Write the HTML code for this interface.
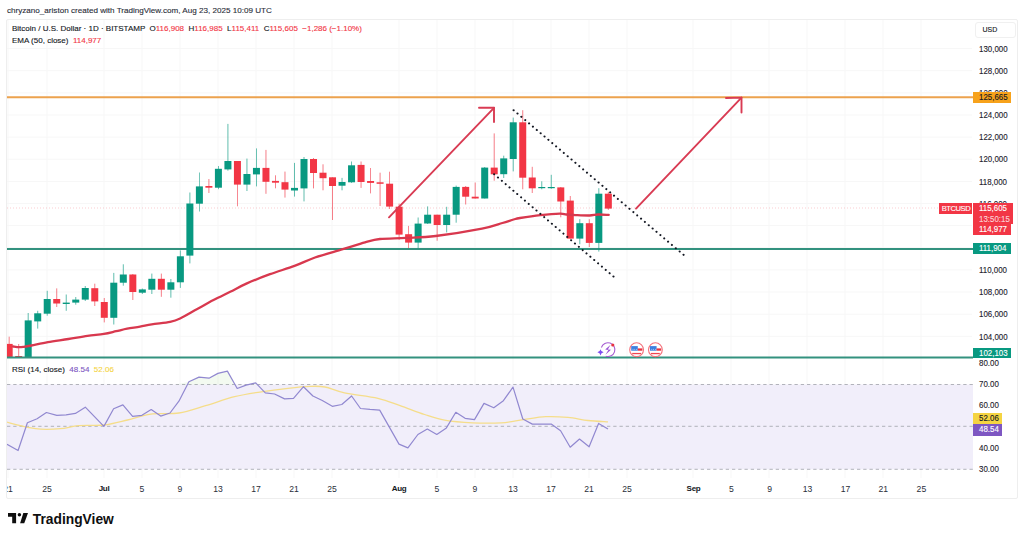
<!DOCTYPE html>
<html><head><meta charset="utf-8"><style>
*{margin:0;padding:0;box-sizing:border-box}
html,body{width:1024px;height:539px;overflow:hidden;background:#fff;font-family:"Liberation Sans",sans-serif;color:#131722;-webkit-text-stroke:0.12px}
.abs{position:absolute}
#hdr{position:absolute;left:7px;top:5.7px;font-size:8.1px;color:#2a2e39;white-space:nowrap}
#frame{position:absolute;left:6px;top:18.5px;width:1012px;height:480px;border:1px solid #eeeeee;border-radius:2px}
svg{position:absolute;left:0;top:0}
.pl{position:absolute;left:979.3px;font-size:8.7px;line-height:10px;white-space:nowrap;color:#1e222d;transform:scaleX(0.91);transform-origin:0 0}
.dl{position:absolute;top:483.5px;width:40px;text-align:center;font-size:8.6px;line-height:10px;color:#2a2e39;-webkit-text-stroke:0}
.dl.b{font-weight:bold;font-size:8px;color:#131722;letter-spacing:-0.3px}
.leg{position:absolute;left:12px;font-size:8px;line-height:10px;white-space:nowrap;color:#131722}
.red{color:#f23645}
.tag{position:absolute;font-size:8px;line-height:10px;color:#fff;white-space:nowrap;padding-left:6px}
.tx{display:inline-block;font-size:8.7px;transform:scaleX(0.91);transform-origin:0 50%}
#clipL{position:absolute;left:0;top:19px;width:6.5px;height:480px;background:#fff}
</style></head><body>
<div id="hdr">chryzano_ariston created with TradingView.com, Aug 23, 2025 10:09 UTC</div>
<svg width="1024" height="539" viewBox="0 0 1024 539">
<defs><clipPath id="cp"><rect x="7" y="20" width="966" height="458"/></clipPath></defs>
<g clip-path="url(#cp)">
<line x1="8" y1="20" x2="8" y2="478" stroke="#f7f7f7" stroke-width="1"/>
<line x1="47" y1="20" x2="47" y2="478" stroke="#f7f7f7" stroke-width="1"/>
<line x1="104" y1="20" x2="104" y2="478" stroke="#f7f7f7" stroke-width="1"/>
<line x1="142" y1="20" x2="142" y2="478" stroke="#f7f7f7" stroke-width="1"/>
<line x1="180" y1="20" x2="180" y2="478" stroke="#f7f7f7" stroke-width="1"/>
<line x1="218" y1="20" x2="218" y2="478" stroke="#f7f7f7" stroke-width="1"/>
<line x1="256" y1="20" x2="256" y2="478" stroke="#f7f7f7" stroke-width="1"/>
<line x1="294" y1="20" x2="294" y2="478" stroke="#f7f7f7" stroke-width="1"/>
<line x1="332" y1="20" x2="332" y2="478" stroke="#f7f7f7" stroke-width="1"/>
<line x1="399" y1="20" x2="399" y2="478" stroke="#f7f7f7" stroke-width="1"/>
<line x1="437" y1="20" x2="437" y2="478" stroke="#f7f7f7" stroke-width="1"/>
<line x1="475" y1="20" x2="475" y2="478" stroke="#f7f7f7" stroke-width="1"/>
<line x1="513" y1="20" x2="513" y2="478" stroke="#f7f7f7" stroke-width="1"/>
<line x1="551" y1="20" x2="551" y2="478" stroke="#f7f7f7" stroke-width="1"/>
<line x1="589" y1="20" x2="589" y2="478" stroke="#f7f7f7" stroke-width="1"/>
<line x1="627" y1="20" x2="627" y2="478" stroke="#f7f7f7" stroke-width="1"/>
<line x1="693" y1="20" x2="693" y2="478" stroke="#f7f7f7" stroke-width="1"/>
<line x1="731" y1="20" x2="731" y2="478" stroke="#f7f7f7" stroke-width="1"/>
<line x1="769" y1="20" x2="769" y2="478" stroke="#f7f7f7" stroke-width="1"/>
<line x1="807" y1="20" x2="807" y2="478" stroke="#f7f7f7" stroke-width="1"/>
<line x1="845" y1="20" x2="845" y2="478" stroke="#f7f7f7" stroke-width="1"/>
<line x1="883" y1="20" x2="883" y2="478" stroke="#f7f7f7" stroke-width="1"/>
<line x1="921" y1="20" x2="921" y2="478" stroke="#f7f7f7" stroke-width="1"/>
<line x1="7" y1="48.6" x2="972" y2="48.6" stroke="#f7f7f7" stroke-width="1"/>
<line x1="7" y1="70.7" x2="972" y2="70.7" stroke="#f7f7f7" stroke-width="1"/>
<line x1="7" y1="92.9" x2="972" y2="92.9" stroke="#f7f7f7" stroke-width="1"/>
<line x1="7" y1="115.0" x2="972" y2="115.0" stroke="#f7f7f7" stroke-width="1"/>
<line x1="7" y1="137.1" x2="972" y2="137.1" stroke="#f7f7f7" stroke-width="1"/>
<line x1="7" y1="159.2" x2="972" y2="159.2" stroke="#f7f7f7" stroke-width="1"/>
<line x1="7" y1="181.4" x2="972" y2="181.4" stroke="#f7f7f7" stroke-width="1"/>
<line x1="7" y1="203.5" x2="972" y2="203.5" stroke="#f7f7f7" stroke-width="1"/>
<line x1="7" y1="225.6" x2="972" y2="225.6" stroke="#f7f7f7" stroke-width="1"/>
<line x1="7" y1="247.8" x2="972" y2="247.8" stroke="#f7f7f7" stroke-width="1"/>
<line x1="7" y1="269.9" x2="972" y2="269.9" stroke="#f7f7f7" stroke-width="1"/>
<line x1="7" y1="292.0" x2="972" y2="292.0" stroke="#f7f7f7" stroke-width="1"/>
<line x1="7" y1="314.2" x2="972" y2="314.2" stroke="#f7f7f7" stroke-width="1"/>
<line x1="7" y1="336.3" x2="972" y2="336.3" stroke="#f7f7f7" stroke-width="1"/>
<rect x="7" y="384.5" width="966" height="84.8" fill="#f1eefa"/>
<line x1="7" y1="384.5" x2="973" y2="384.5" stroke="#9fa2aa" stroke-width="0.8" stroke-dasharray="3.3 2.95"/>
<line x1="7" y1="426.3" x2="973" y2="426.3" stroke="#9fa2aa" stroke-width="0.8" stroke-dasharray="3.3 2.95"/>
<line x1="7" y1="469.3" x2="973" y2="469.3" stroke="#9fa2aa" stroke-width="0.8" stroke-dasharray="3.3 2.95"/>
<line x1="7" y1="208" x2="939" y2="208" stroke="#f23645" stroke-width="0.8" stroke-dasharray="1 2" opacity="0.3"/>
<line x1="7" y1="97.2" x2="974" y2="97.2" stroke="#eca24e" stroke-width="2"/>
<line x1="7" y1="249" x2="974" y2="249" stroke="#33927f" stroke-width="2"/>
<line x1="9.18" y1="336.7" x2="9.18" y2="357.5" stroke="#f23645" stroke-width="0.75" opacity="0.85"/>
<rect x="5.68" y="343.9" width="7.0" height="13.6" fill="#f23645"/>
<line x1="18.69" y1="344.0" x2="18.69" y2="357.5" stroke="#f23645" stroke-width="0.75" opacity="0.85"/>
<rect x="15.19" y="356.0" width="7.0" height="1.5" fill="#f23645"/>
<line x1="28.20" y1="313.0" x2="28.20" y2="357.5" stroke="#089981" stroke-width="0.75" opacity="0.85"/>
<rect x="24.70" y="320.4" width="7.0" height="37.1" fill="#089981"/>
<line x1="37.71" y1="310.8" x2="37.71" y2="328.6" stroke="#089981" stroke-width="0.75" opacity="0.85"/>
<rect x="34.21" y="313.3" width="7.0" height="8.1" fill="#089981"/>
<line x1="47.22" y1="290.8" x2="47.22" y2="315.7" stroke="#089981" stroke-width="0.75" opacity="0.85"/>
<rect x="43.72" y="299.0" width="7.0" height="14.7" fill="#089981"/>
<line x1="56.73" y1="288.4" x2="56.73" y2="307.0" stroke="#f23645" stroke-width="0.75" opacity="0.85"/>
<rect x="53.23" y="299.0" width="7.0" height="4.5" fill="#f23645"/>
<line x1="66.24" y1="294.5" x2="66.24" y2="310.8" stroke="#089981" stroke-width="0.75" opacity="0.85"/>
<rect x="62.74" y="302.6" width="7.0" height="1.4" fill="#089981"/>
<line x1="75.75" y1="297.0" x2="75.75" y2="304.7" stroke="#089981" stroke-width="0.75" opacity="0.85"/>
<rect x="72.25" y="299.6" width="7.0" height="3.0" fill="#089981"/>
<line x1="85.26" y1="286.0" x2="85.26" y2="301.0" stroke="#089981" stroke-width="0.75" opacity="0.85"/>
<rect x="81.76" y="288.0" width="7.0" height="11.6" fill="#089981"/>
<line x1="94.77" y1="283.7" x2="94.77" y2="306.0" stroke="#f23645" stroke-width="0.75" opacity="0.85"/>
<rect x="91.27" y="288.2" width="7.0" height="13.2" fill="#f23645"/>
<line x1="104.28" y1="298.0" x2="104.28" y2="322.4" stroke="#f23645" stroke-width="0.75" opacity="0.85"/>
<rect x="100.78" y="302.0" width="7.0" height="15.8" fill="#f23645"/>
<line x1="113.79" y1="272.9" x2="113.79" y2="324.5" stroke="#089981" stroke-width="0.75" opacity="0.85"/>
<rect x="110.29" y="282.7" width="7.0" height="35.1" fill="#089981"/>
<line x1="123.30" y1="264.3" x2="123.30" y2="285.7" stroke="#089981" stroke-width="0.75" opacity="0.85"/>
<rect x="119.80" y="274.5" width="7.0" height="8.2" fill="#089981"/>
<line x1="132.82" y1="274.0" x2="132.82" y2="300.0" stroke="#f23645" stroke-width="0.75" opacity="0.85"/>
<rect x="129.32" y="274.5" width="7.0" height="17.5" fill="#f23645"/>
<line x1="142.33" y1="288.5" x2="142.33" y2="294.0" stroke="#089981" stroke-width="0.75" opacity="0.85"/>
<rect x="138.83" y="289.4" width="7.0" height="3.3" fill="#089981"/>
<line x1="151.84" y1="273.6" x2="151.84" y2="294.0" stroke="#089981" stroke-width="0.75" opacity="0.85"/>
<rect x="148.34" y="278.8" width="7.0" height="10.9" fill="#089981"/>
<line x1="161.35" y1="273.6" x2="161.35" y2="296.8" stroke="#f23645" stroke-width="0.75" opacity="0.85"/>
<rect x="157.85" y="278.8" width="7.0" height="10.9" fill="#f23645"/>
<line x1="170.86" y1="279.0" x2="170.86" y2="297.7" stroke="#089981" stroke-width="0.75" opacity="0.85"/>
<rect x="167.36" y="282.3" width="7.0" height="7.4" fill="#089981"/>
<line x1="180.37" y1="250.4" x2="180.37" y2="287.9" stroke="#089981" stroke-width="0.75" opacity="0.85"/>
<rect x="176.87" y="256.3" width="7.0" height="26.0" fill="#089981"/>
<line x1="189.88" y1="192.5" x2="189.88" y2="263.4" stroke="#089981" stroke-width="0.75" opacity="0.85"/>
<rect x="186.38" y="203.5" width="7.0" height="52.1" fill="#089981"/>
<line x1="199.39" y1="172.5" x2="199.39" y2="211.5" stroke="#089981" stroke-width="0.75" opacity="0.85"/>
<rect x="195.89" y="186.4" width="7.0" height="17.3" fill="#089981"/>
<line x1="208.90" y1="179.0" x2="208.90" y2="193.0" stroke="#f23645" stroke-width="0.75" opacity="0.85"/>
<rect x="205.40" y="186.0" width="7.0" height="1.7" fill="#f23645"/>
<line x1="218.41" y1="166.0" x2="218.41" y2="189.2" stroke="#089981" stroke-width="0.75" opacity="0.85"/>
<rect x="214.91" y="168.8" width="7.0" height="18.9" fill="#089981"/>
<line x1="227.92" y1="123.9" x2="227.92" y2="170.7" stroke="#089981" stroke-width="0.75" opacity="0.85"/>
<rect x="224.42" y="161.0" width="7.0" height="8.4" fill="#089981"/>
<line x1="237.43" y1="161.0" x2="237.43" y2="206.3" stroke="#f23645" stroke-width="0.75" opacity="0.85"/>
<rect x="233.93" y="161.0" width="7.0" height="23.6" fill="#f23645"/>
<line x1="246.94" y1="158.6" x2="246.94" y2="191.0" stroke="#089981" stroke-width="0.75" opacity="0.85"/>
<rect x="243.44" y="174.0" width="7.0" height="10.6" fill="#089981"/>
<line x1="256.45" y1="148.4" x2="256.45" y2="186.4" stroke="#089981" stroke-width="0.75" opacity="0.85"/>
<rect x="252.95" y="167.9" width="7.0" height="6.5" fill="#089981"/>
<line x1="265.96" y1="149.9" x2="265.96" y2="193.8" stroke="#f23645" stroke-width="0.75" opacity="0.85"/>
<rect x="262.46" y="167.9" width="7.0" height="13.9" fill="#f23645"/>
<line x1="275.47" y1="175.3" x2="275.47" y2="188.3" stroke="#f23645" stroke-width="0.75" opacity="0.85"/>
<rect x="271.97" y="180.9" width="7.0" height="1.8" fill="#f23645"/>
<line x1="284.98" y1="171.6" x2="284.98" y2="197.6" stroke="#f23645" stroke-width="0.75" opacity="0.85"/>
<rect x="281.48" y="182.2" width="7.0" height="7.4" fill="#f23645"/>
<line x1="294.49" y1="162.9" x2="294.49" y2="196.6" stroke="#089981" stroke-width="0.75" opacity="0.85"/>
<rect x="290.99" y="187.9" width="7.0" height="2.6" fill="#089981"/>
<line x1="304.00" y1="157.0" x2="304.00" y2="201.4" stroke="#089981" stroke-width="0.75" opacity="0.85"/>
<rect x="300.50" y="159.0" width="7.0" height="29.4" fill="#089981"/>
<line x1="313.51" y1="158.0" x2="313.51" y2="188.4" stroke="#f23645" stroke-width="0.75" opacity="0.85"/>
<rect x="310.01" y="159.0" width="7.0" height="14.0" fill="#f23645"/>
<line x1="323.02" y1="164.3" x2="323.02" y2="190.3" stroke="#f23645" stroke-width="0.75" opacity="0.85"/>
<rect x="319.52" y="172.7" width="7.0" height="5.5" fill="#f23645"/>
<line x1="332.53" y1="177.3" x2="332.53" y2="220.0" stroke="#f23645" stroke-width="0.75" opacity="0.85"/>
<rect x="329.03" y="177.3" width="7.0" height="8.7" fill="#f23645"/>
<line x1="342.04" y1="177.9" x2="342.04" y2="190.3" stroke="#089981" stroke-width="0.75" opacity="0.85"/>
<rect x="338.54" y="182.0" width="7.0" height="3.7" fill="#089981"/>
<line x1="351.55" y1="161.5" x2="351.55" y2="182.9" stroke="#089981" stroke-width="0.75" opacity="0.85"/>
<rect x="348.05" y="165.3" width="7.0" height="17.0" fill="#089981"/>
<line x1="361.06" y1="161.5" x2="361.06" y2="187.9" stroke="#f23645" stroke-width="0.75" opacity="0.85"/>
<rect x="357.56" y="164.9" width="7.0" height="17.1" fill="#f23645"/>
<line x1="370.58" y1="168.0" x2="370.58" y2="193.4" stroke="#f23645" stroke-width="0.75" opacity="0.85"/>
<rect x="367.08" y="181.0" width="7.0" height="1.9" fill="#f23645"/>
<line x1="380.09" y1="172.7" x2="380.09" y2="206.0" stroke="#f23645" stroke-width="0.75" opacity="0.85"/>
<rect x="376.59" y="182.3" width="7.0" height="1.5" fill="#f23645"/>
<line x1="389.60" y1="171.7" x2="389.60" y2="209.0" stroke="#f23645" stroke-width="0.75" opacity="0.85"/>
<rect x="386.10" y="183.7" width="7.0" height="22.9" fill="#f23645"/>
<line x1="399.11" y1="203.6" x2="399.11" y2="239.8" stroke="#f23645" stroke-width="0.75" opacity="0.85"/>
<rect x="395.61" y="206.7" width="7.0" height="27.9" fill="#f23645"/>
<line x1="408.62" y1="225.9" x2="408.62" y2="248.1" stroke="#f23645" stroke-width="0.75" opacity="0.85"/>
<rect x="405.12" y="234.2" width="7.0" height="8.4" fill="#f23645"/>
<line x1="418.13" y1="217.5" x2="418.13" y2="248.1" stroke="#089981" stroke-width="0.75" opacity="0.85"/>
<rect x="414.63" y="223.6" width="7.0" height="19.0" fill="#089981"/>
<line x1="427.64" y1="206.4" x2="427.64" y2="224.0" stroke="#089981" stroke-width="0.75" opacity="0.85"/>
<rect x="424.14" y="214.7" width="7.0" height="8.8" fill="#089981"/>
<line x1="437.15" y1="214.7" x2="437.15" y2="240.7" stroke="#f23645" stroke-width="0.75" opacity="0.85"/>
<rect x="433.65" y="214.7" width="7.0" height="10.3" fill="#f23645"/>
<line x1="446.66" y1="206.8" x2="446.66" y2="232.4" stroke="#089981" stroke-width="0.75" opacity="0.85"/>
<rect x="443.16" y="214.7" width="7.0" height="10.3" fill="#089981"/>
<line x1="456.17" y1="185.6" x2="456.17" y2="222.7" stroke="#089981" stroke-width="0.75" opacity="0.85"/>
<rect x="452.67" y="186.9" width="7.0" height="27.8" fill="#089981"/>
<line x1="465.68" y1="186.0" x2="465.68" y2="204.5" stroke="#f23645" stroke-width="0.75" opacity="0.85"/>
<rect x="462.18" y="186.9" width="7.0" height="9.8" fill="#f23645"/>
<line x1="475.19" y1="182.5" x2="475.19" y2="198.6" stroke="#f23645" stroke-width="0.75" opacity="0.85"/>
<rect x="471.69" y="196.7" width="7.0" height="1.8" fill="#f23645"/>
<line x1="484.70" y1="167.0" x2="484.70" y2="198.5" stroke="#089981" stroke-width="0.75" opacity="0.85"/>
<rect x="481.20" y="167.6" width="7.0" height="30.9" fill="#089981"/>
<line x1="494.21" y1="133.4" x2="494.21" y2="180.7" stroke="#f23645" stroke-width="0.75" opacity="0.85"/>
<rect x="490.71" y="167.6" width="7.0" height="6.7" fill="#f23645"/>
<line x1="503.72" y1="155.7" x2="503.72" y2="178.0" stroke="#089981" stroke-width="0.75" opacity="0.85"/>
<rect x="500.22" y="158.4" width="7.0" height="15.8" fill="#089981"/>
<line x1="513.23" y1="117.6" x2="513.23" y2="171.4" stroke="#089981" stroke-width="0.75" opacity="0.85"/>
<rect x="509.73" y="122.3" width="7.0" height="36.7" fill="#089981"/>
<line x1="522.74" y1="110.2" x2="522.74" y2="189.3" stroke="#f23645" stroke-width="0.75" opacity="0.85"/>
<rect x="519.24" y="122.3" width="7.0" height="55.4" fill="#f23645"/>
<line x1="532.25" y1="166.8" x2="532.25" y2="193.0" stroke="#f23645" stroke-width="0.75" opacity="0.85"/>
<rect x="528.75" y="177.5" width="7.0" height="10.8" fill="#f23645"/>
<line x1="541.76" y1="181.3" x2="541.76" y2="189.3" stroke="#089981" stroke-width="0.75" opacity="0.85"/>
<rect x="538.26" y="187.0" width="7.0" height="1.2" fill="#089981"/>
<line x1="551.27" y1="174.8" x2="551.27" y2="188.8" stroke="#089981" stroke-width="0.75" opacity="0.85"/>
<rect x="547.77" y="187.0" width="7.0" height="1.2" fill="#089981"/>
<line x1="560.78" y1="187.0" x2="560.78" y2="217.3" stroke="#f23645" stroke-width="0.75" opacity="0.85"/>
<rect x="557.28" y="187.4" width="7.0" height="14.1" fill="#f23645"/>
<line x1="570.29" y1="196.0" x2="570.29" y2="238.6" stroke="#f23645" stroke-width="0.75" opacity="0.85"/>
<rect x="566.79" y="200.6" width="7.0" height="38.0" fill="#f23645"/>
<line x1="579.80" y1="219.2" x2="579.80" y2="244.2" stroke="#089981" stroke-width="0.75" opacity="0.85"/>
<rect x="576.30" y="223.2" width="7.0" height="15.4" fill="#089981"/>
<line x1="589.31" y1="219.2" x2="589.31" y2="247.0" stroke="#f23645" stroke-width="0.75" opacity="0.85"/>
<rect x="585.81" y="223.2" width="7.0" height="19.7" fill="#f23645"/>
<line x1="598.82" y1="188.2" x2="598.82" y2="251.6" stroke="#089981" stroke-width="0.75" opacity="0.85"/>
<rect x="595.32" y="193.7" width="7.0" height="49.2" fill="#089981"/>
<line x1="608.34" y1="191.9" x2="608.34" y2="209.9" stroke="#f23645" stroke-width="0.75" opacity="0.85"/>
<rect x="604.84" y="193.7" width="7.0" height="14.9" fill="#f23645"/>
<path fill="none" stroke="#d8384e" stroke-width="2.3" stroke-linecap="round" d="M13,346.5 C14.02,346.62 17.28,347.15 19.1,347.2 C20.92,347.25 21.85,347.08 23.9,346.8 C25.95,346.52 27.40,346.28 31.4,345.5 C35.40,344.72 41.73,343.18 47.9,342.1 C54.07,341.02 61.80,340.05 68.4,339 C75.00,337.95 81.58,336.65 87.5,335.8 C93.42,334.95 99.12,334.67 103.9,333.9 C108.68,333.13 112.32,332.07 116.2,331.2 C120.08,330.33 123.23,329.45 127.2,328.7 C131.17,327.95 135.92,327.43 140,326.7 C144.08,325.97 146.68,325.12 151.7,324.3 C156.72,323.48 165.37,322.77 170.1,321.8 C174.83,320.83 175.65,320.58 180.1,318.5 C184.55,316.42 191.23,312.37 196.8,309.3 C202.37,306.23 207.93,303.02 213.5,300.1 C219.07,297.18 224.63,294.58 230.2,291.8 C235.77,289.02 240.27,286.33 246.9,283.4 C253.53,280.47 262.07,277.12 270,274.2 C277.93,271.28 287.00,268.68 294.5,265.9 C302.00,263.12 306.95,260.28 315,257.5 C323.05,254.72 334.47,251.73 342.8,249.2 C351.13,246.67 358.82,244.00 365,242.3 C371.18,240.60 373.07,239.73 379.9,239 C386.73,238.27 396.70,238.40 406,237.9 C415.30,237.40 423.03,237.55 435.7,236 C448.37,234.45 470.88,230.77 482,228.6 C493.12,226.43 497.13,224.52 502.4,223 C507.67,221.48 510.67,220.33 513.6,219.5 C516.53,218.67 515.53,218.73 520,218 C524.47,217.27 533.75,215.83 540.4,215.1 C547.05,214.37 555.57,213.70 559.9,213.6 C564.23,213.50 563.77,214.25 566.4,214.5 C569.03,214.75 571.83,214.93 575.7,215.1 C579.57,215.27 585.88,215.60 589.6,215.5 C593.32,215.40 594.82,214.60 598,214.5 C601.18,214.40 606.92,214.83 608.7,214.9"/>
<line x1="7" y1="357.6" x2="974" y2="357.6" stroke="#33927f" stroke-width="2"/>
<g stroke="#d93b53" stroke-width="1.9" fill="none" stroke-linecap="round" stroke-linejoin="round"><line x1="389" y1="217.3" x2="494" y2="107.8"/><polyline points="479,107.8 494,107.8 494,122"/></g>
<g stroke="#d93b53" stroke-width="1.9" fill="none" stroke-linecap="round" stroke-linejoin="round"><line x1="636" y1="208.6" x2="741.5" y2="97.6"/><polyline points="726,98 741.5,97.6 741.5,112.5"/></g>
<line x1="513.6" y1="110.2" x2="683.9" y2="255.1" stroke="#131722" stroke-width="2" stroke-dasharray="0.1 4.97" stroke-linecap="round"/>
<line x1="494.1" y1="174.2" x2="615.1" y2="277.9" stroke="#131722" stroke-width="2" stroke-dasharray="0.1 4.97" stroke-linecap="round"/>
<polygon fill="rgba(120,200,90,0.09)" points="176.1,384.5 188.9,381.8 199,377.1 209,378.2 217.9,373.4 227.4,371.1 234.7,384.5"/>
<polygon fill="rgba(120,200,90,0.09)" points="248.4,384.5 255.7,382.9 258.2,384.5"/>
<path fill="none" stroke="#f5dd8a" stroke-width="1.3" d="M7,422.2 C10.47,423.05 22.20,426.13 27.8,427.3 C33.40,428.47 35.18,428.97 40.6,429.2 C46.02,429.43 53.93,429.28 60.3,428.7 C66.67,428.12 71.53,426.32 78.8,425.7 C86.07,425.08 95.78,425.95 103.9,425 C112.02,424.05 119.70,421.82 127.5,420 C135.30,418.18 142.13,415.27 150.7,414.1 C159.27,412.93 169.75,414.42 178.9,413 C188.05,411.58 196.32,408.32 205.6,405.6 C214.88,402.88 225.32,399.00 234.6,396.7 C243.88,394.40 252.40,393.20 261.3,391.8 C270.20,390.40 279.88,389.20 288,388.3 C296.12,387.40 303.83,386.62 310,386.4 C316.17,386.18 319.25,385.92 325,387.0 C330.75,388.08 335.68,391.02 344.5,392.9 C353.32,394.78 368.63,396.18 377.9,398.3 C387.17,400.42 392.32,402.90 400.1,405.6 C407.88,408.30 417.18,412.08 424.6,414.5 C432.02,416.92 436.65,418.72 444.6,420.1 C452.55,421.48 462.87,422.35 472.3,422.8 C481.73,423.25 492.68,423.33 501.2,422.8 C509.72,422.27 515.98,420.62 523.4,419.6 C530.82,418.58 538.27,417.07 545.7,416.7 C553.13,416.33 560.95,416.77 568,417.4 C575.05,418.03 581.33,419.75 588,420.5 C594.67,421.25 604.67,421.67 608,421.9"/>
<polyline fill="none" stroke="#9188d0" stroke-width="1.2" stroke-linejoin="round" points="7,444.3 18.1,450.5 27.4,422.7 37.1,418.8 46.4,412.5 56.8,415.3 66.1,414.8 75.4,413.4 85.3,407.2 103.9,426.4 113.6,408.8 122.9,404.9 132.6,416.4 141.9,415.3 151.2,409.5 160.7,416.1 170,413 178.9,401.2 188.9,381.8 199,377.1 209,378.2 217.9,373.4 227.4,371.1 237.2,388.5 246.1,385.1 255.7,382.9 265.3,392.9 274.6,394 284.6,398.9 293.5,398.3 303.5,386.7 312.9,396 322.3,400.5 332.3,406.3 341.8,404.5 351.6,396 360.5,408.5 370,409.4 379.7,410.1 399,444.1 407.9,447.9 417.9,434.5 427.3,429 436.8,434.5 446.4,427.9 455.8,412.3 465.1,418.3 474.5,419.6 484,403.4 493.8,407.8 503.4,400.7 513,387.1 522.8,419 532.3,424.1 541.7,424.1 551.2,424.1 560.6,430.8 570.2,447.2 579.5,439 589.1,446.8 598.6,423.4 608,429"/>
<g><circle cx="636.6" cy="349.7" r="6.9" fill="#fff" stroke="#f4727c" stroke-width="1.1"/><rect x="631.2" y="346.09999999999997" width="6.6" height="4.6" fill="#3d7fe0"/><rect x="637.8000000000001" y="348.4" width="4.6" height="2.3" fill="#e8323f"/><rect x="632.2" y="352.9" width="8.8" height="1.3" fill="#f04450"/><circle cx="633.0" cy="349.3" r="0.45" fill="#fff"/><circle cx="634.8000000000001" cy="349.3" r="0.45" fill="#fff"/><circle cx="636.6" cy="349.3" r="0.45" fill="#fff"/></g>
<g><circle cx="655.4" cy="349.7" r="6.9" fill="#fff" stroke="#f4727c" stroke-width="1.1"/><rect x="650.0" y="346.09999999999997" width="6.6" height="4.6" fill="#3d7fe0"/><rect x="656.6" y="348.4" width="4.6" height="2.3" fill="#e8323f"/><rect x="651.0" y="352.9" width="8.8" height="1.3" fill="#f04450"/><circle cx="651.8" cy="349.3" r="0.45" fill="#fff"/><circle cx="653.6" cy="349.3" r="0.45" fill="#fff"/><circle cx="655.4" cy="349.3" r="0.45" fill="#fff"/></g>
<g><path d="M601.4,347.5 A6.9,6.9 0 1 1 605.8,356.2" fill="none" stroke="#a75fd2" stroke-width="1.1"/><path d="M610.6,344.8 L605.2,349.6 L608.4,350.0 L605.4,354.8 L611.0,349.8 L607.8,349.4 Z" fill="#9b51d6"/><circle cx="612.8" cy="345.0" r="1.6" fill="#e8323f"/><path d="M600.5,349.2 Q601,351.8 603.6,352.3 Q601,352.8 600.5,355.4 Q600,352.8 597.4,352.3 Q600,351.8 600.5,349.2Z" fill="#7d4df0"/></g>
</g>
</svg>
<div class="leg" style="top:24.2px">Bitcoin / U.S. Dollar · 1D · BITSTAMP &nbsp;O<span class="red">116,908</span>&nbsp; H<span class="red">116,985</span>&nbsp; L<span class="red">115,411</span>&nbsp; C<span class="red">115,605</span>&nbsp; <span class="red">−1,286 (−1.10%)</span></div>
<div class="leg" style="top:36.3px">EMA (50, close) &nbsp;<span class="red">114,977</span></div>
<div class="leg" style="top:364.5px">RSI (14, close) &nbsp;<span style="color:#7e57c2">48.54</span>&nbsp; <span style="color:#f5d442">52.06</span></div>
<div class="abs" style="left:975px;top:21.5px;width:40.5px;height:16.5px;border:1px solid #f0f0f0;border-radius:3px;font-size:7px;line-height:14.5px;padding-left:6.5px">USD</div>
<div class="pl" style="top:43.8px">130,000</div><div class="pl" style="top:65.9px">128,000</div><div class="pl" style="top:88.1px">126,000</div><div class="pl" style="top:110.2px">124,000</div><div class="pl" style="top:132.3px">122,000</div><div class="pl" style="top:154.4px">120,000</div><div class="pl" style="top:176.6px">118,000</div><div class="pl" style="top:198.7px">116,000</div><div class="pl" style="top:265.1px">110,000</div><div class="pl" style="top:287.2px">108,000</div><div class="pl" style="top:309.4px">106,000</div><div class="pl" style="top:331.5px">104,000</div><div class="pl" style="top:357.8px">80.00</div><div class="pl" style="top:379.0px">70.00</div><div class="pl" style="top:400.2px">60.00</div><div class="pl" style="top:443.0px">40.00</div><div class="pl" style="top:464.3px">30.00</div>
<div class="tag" style="left:973.3px;top:91.5px;width:38px;height:11.7px;background:#f7a21b;color:#131722;line-height:11.7px"><span class="tx">125,665</span></div>
<div class="tag" style="left:939.2px;top:203px;width:33px;height:11.2px;background:#f23645;line-height:11.2px;padding-left:2.5px;letter-spacing:-0.45px;font-size:7.6px">BTCUSD</div>
<div class="tag" style="left:973.4px;top:203px;width:40px;height:21px;background:#f23645;line-height:10.5px"><span class="tx">115,605<br><span style="color:rgba(255,255,255,.75)">13:50:15</span></span></div>
<div class="tag" style="left:973.4px;top:223.8px;width:37.6px;height:11px;background:#f23645;line-height:11px"><span class="tx">114,977</span></div>
<div class="tag" style="left:973.4px;top:243.1px;width:37.6px;height:11.2px;background:#089981;line-height:11.2px"><span class="tx">111,904</span></div>
<div class="tag" style="left:973.3px;top:347.9px;width:38px;height:10.1px;background:#089981;line-height:10.1px"><span class="tx">102,103</span></div>
<div class="tag" style="left:973.3px;top:412.6px;width:28.5px;height:11.4px;background:#f5d442;color:#131722;line-height:11.4px"><span class="tx">52.06</span></div>
<div class="tag" style="left:973.3px;top:424.4px;width:28.5px;height:11.2px;background:#7e57c2;line-height:11.2px"><span class="tx">48.54</span></div>
<div class="dl" style="left:-12px">21</div><div class="dl" style="left:27px">25</div><div class="dl b" style="left:84px">Jul</div><div class="dl" style="left:122px">5</div><div class="dl" style="left:160px">9</div><div class="dl" style="left:198px">13</div><div class="dl" style="left:236px">17</div><div class="dl" style="left:274px">21</div><div class="dl" style="left:312px">25</div><div class="dl b" style="left:379px">Aug</div><div class="dl" style="left:417px">5</div><div class="dl" style="left:455px">9</div><div class="dl" style="left:493px">13</div><div class="dl" style="left:531px">17</div><div class="dl" style="left:569px">21</div><div class="dl" style="left:607px">25</div><div class="dl b" style="left:673.5px">Sep</div><div class="dl" style="left:711.4px">5</div><div class="dl" style="left:749.7px">9</div><div class="dl" style="left:787.6px">13</div><div class="dl" style="left:825.6px">17</div><div class="dl" style="left:863.2px">21</div><div class="dl" style="left:901.4px">25</div>
<div id="clipL"></div>
<div id="frame"></div>
<div class="abs" style="left:7px;top:512px;">
<svg width="24" height="12" viewBox="0 0 24 12" style="position:absolute;left:1px;top:1px"><path d="M0 0H8.1V10.3H4.2V3.7H0Z" fill="#0f0f0f"/><circle cx="11.4" cy="1.85" r="1.75" fill="#0f0f0f"/><path d="M15.3 0H20L16.25 10.3H12.15Z" fill="#0f0f0f"/></svg>
<div class="abs" style="left:25.8px;top:-0.5px;font-size:13.8px;font-weight:bold;color:#0f0f0f;white-space:nowrap;-webkit-text-stroke:0">TradingView</div>
</div>
</body></html>
